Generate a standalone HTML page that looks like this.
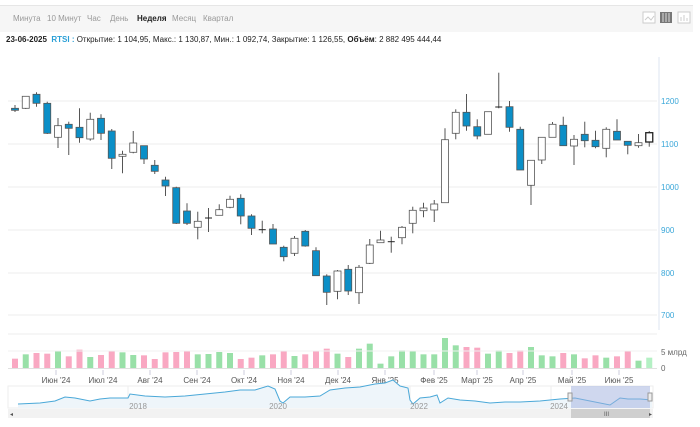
<!DOCTYPE html>
<html><head><meta charset="utf-8"><style>
body{margin:0;background:#fff;width:700px;height:427px;overflow:hidden;font-family:"Liberation Sans",sans-serif;position:relative}
.tabs{position:absolute;left:0;top:5px;width:693px;height:26px;background:#f6f6f6;border-top:1px solid #e6e6e6}
.tabs span{position:absolute;top:8px;font-size:8px;color:#999}
.info{position:absolute;left:6px;top:35px;font-size:8px;color:#222}
</style></head><body>
<div class="tabs">
<span style="left:13px">Минута</span><span style="left:47px">10 Минут</span><span style="left:87px">Час</span><span style="left:110px">День</span><span style="left:137px;color:#222;font-weight:bold">Неделя</span><span style="left:172px">Месяц</span><span style="left:203px">Квартал</span>
</div>
<svg style="position:absolute;left:0;top:0" width="700" height="427" id="s">
<rect x="643" y="12" width="12" height="11" fill="#fff" stroke="#ccc"/>
<polyline points="645,20 648,17 651,20 654,16" fill="none" stroke="#ccc"/>
<rect x="660" y="12" width="12" height="11" fill="#777"/>
<path d="M663 13v9M666 13v9M669 13v9" stroke="#ddd"/>
<rect x="678" y="12" width="12" height="11" fill="#fff" stroke="#ccc"/>
<path d="M681 21v-4M684 21v-6M687 21v-3" stroke="#ccc"/>
</svg>
<div class="info"><b>23-06-2025</b> &nbsp;<b style="color:#2a9fd6">RTSI :</b> Открытие: 1 104,95, Макс.: 1 130,87, Мин.: 1 092,74, Закрытие: 1 126,55, <b>Объём</b>: 2 882 495 444,44</div>
<script>
const s=document.getElementById('s');let h='';
[[101,1200],[144,1100],[187,1000],[230,900],[273,800],[315,700]].forEach(([y,v])=>{h+=`<line x1="8" x2="657" y1="${y}" y2="${y}" stroke="#eeeeee"/><text x="661" y="${y+3}" font-size="8" fill="#3aa7d9">${v}</text>`});
h+=`<line x1="659" x2="659" y1="57" y2="330" stroke="#dde6f2"/>`;
const c=[[0,108.3,110.3,105,112],[1,108.3,96.3,96,109],[0,94.3,103.3,92.3,106.7],[0,103.3,133.3,101.7,134],[1,137.3,125.7,118,148],[0,124.3,128.3,121.7,155],[0,127.3,137.7,108.3,142.7],[1,139,119.3,112.7,140.7],[0,118.3,133.3,114.3,140],[0,131,158.3,129,169],[1,156.3,154.3,150.7,173.3],[1,152.3,143,131,153.3],[0,145.7,159,145.7,164],[0,165.3,171.3,160,174],[0,180,186,176.7,196],[0,187.7,223.3,186.7,224],[0,211,223.3,203.3,225],[1,227.3,221.3,211.7,239.3],[2,218,218,208,232],[1,215.3,209.7,204.3,215.3],[1,207.3,199.3,195.7,208.3],[0,198.3,216,194.3,224.3],[0,216,228.3,214.3,235],[2,229.7,229.7,220.7,233.3],[0,229,244,224,244],[0,247.3,256.7,245.7,261.3],[1,253.3,238.3,236,256],[0,231.3,246,230,246.7],[0,250.7,275.7,247.3,275.7],[0,276,292.3,274.3,305],[1,291.3,271,270,299.3],[0,269.3,291,265,295],[1,292.7,267.3,265,304],[1,263.3,245,239,264],[1,242.7,240,230.7,242.7],[2,241.7,241.7,236.7,252.7],[1,237.7,227.3,226,244.3],[1,223.3,210.3,206.7,233.3],[1,210.7,208,202.7,217.3],[1,210,204,200,222],[1,202.7,139.7,128.3,202.7],[1,133.3,112.3,109.3,139.3],[0,112.3,126,94,130.7],[0,126.7,136,119.3,139.3],[1,134.3,111.7,111.7,134.3],[2,107,107,72.7,108.3],[0,106.7,127.3,101,131.7],[0,129.3,170,126.7,170],[1,185.3,160.3,160.3,205],[1,160,137.3,137.3,164],[1,137.3,124.3,122,137.3],[0,125.3,145.7,116.7,145.7],[1,146,139.3,135,165],[0,134.3,140.7,121.7,147.3],[0,140.3,146.7,130.7,148.3],[1,148.3,129.3,127.3,157.3],[0,131.3,140,119.3,140],[0,141.3,145.3,141.3,154.3],[1,145.7,142.7,134,147.7],[1,142,132.7,131,146.7]];
const vt=[90,75,70,72,65,80,58,82,76,63,67,75,76,87,66,65,62,72,72,65,68,87,82,75,72,62,77,72,63,55,70,80,55,40,100,60,63,72,72,23,42,46,50,70,60,68,60,50,75,78,68,72,84,75,82,78,62,91,82,86];
const vols=[85,72,68,70,62,78,58,80,74,62,66,74,75,86,66,65,62,72,71,65,68,86,82,75,72,62,77,72,63,55,70,80,55,40,100,78,60,63,72,72,23,45,50,52,70,60,68,60,50,75,78,68,72,84,75,82,78,62,91,82];
c.forEach((d,i)=>{const x=15+i*10.75;const [t,o,cl,hi,lo]=d;
h+=`<line x1="${x}" x2="${x}" y1="${hi}" y2="${lo}" stroke="#555"/>`;
const top=Math.min(o,cl),ht=Math.max(Math.abs(o-cl),1);
if(t==2)h+=`<line x1="${x-3.5}" x2="${x+3.5}" y1="${o}" y2="${o}" stroke="#222"/>`;
else h+=`<rect x="${x-3.5}" y="${top}" width="7" height="${ht}" fill="${t?'#fff':'#0b8fc7'}" stroke="${i==59?'#222':'#555'}" stroke-width="${i==59?1.3:0.8}"/>`;
const vh=(113-vols[i])/3;
h+=`<rect x="${x-3}" y="${368-vh}" width="6" height="${vh}" fill="${t==0?'#f9a8c2':(i==59?'#b4f0c4':'#99e0a8')}"/>`;
});
h+=`<line x1="8" x2="657" y1="368.5" y2="368.5" stroke="#e0e0e0"/><line x1="8" x2="657" y1="351" y2="351" stroke="#f0f0f0"/><line x1="8" x2="657" y1="334" y2="334" stroke="#eee"/>`;
h+=`<text x="661" y="355" font-size="8" fill="#666">5 млрд</text><text x="661" y="371" font-size="8" fill="#666">0</text>`;
[["Июн '24",56],["Июл '24",103],["Авг '24",150],["Сен '24",197],["Окт '24",244],["Ноя '24",291],["Дек '24",338],["Янв '25",385],["Фев '25",434],["Март '25",477],["Апр '25",523],["Май '25",572],["Июн '25",619]].forEach(([t,x])=>{h+=`<line x1="${x}" x2="${x}" y1="370" y2="375" stroke="#ccd"/><text x="${x}" y="383" font-size="8" fill="#555" text-anchor="middle">${t}</text>`});
// navigator
h+=`<rect x="8" y="386" width="645" height="22" fill="#fff" stroke="#eee"/>`;
[128,269,410,551].forEach(x=>h+=`<line x1="${x}" x2="${x}" y1="386" y2="408" stroke="#eee"/>`);
const pts=[[18,404],[40,403],[55,401],[65,397],[75,398],[90,401],[100,399],[110,398],[128,398],[130,394],[145,396],[165,397],[185,396],[205,394],[225,392],[240,390],[255,390],[268,386],[275,389],[280,401],[283,403],[290,397],[305,397],[320,396],[330,390],[345,388],[360,387],[375,384],[385,383],[393,380],[400,386],[408,388],[410,400],[413,404],[420,398],[430,397],[437,395],[440,403],[448,398],[460,400],[475,401],[490,403],[505,402],[520,402],[540,401],[560,399],[575,398],[590,401],[610,405],[620,398],[628,399],[640,399],[652,400]];
const pd=pts.map(p=>p.join(',')).join(' ');
h+=`<polygon points="18,408 ${pd} 652,408" fill="#eef5fa"/><polyline points="${pd}" fill="none" stroke="#4aa8d8" stroke-width="1"/>`;
h+=`<rect x="571" y="386" width="79" height="22" fill="#9fb0dd" opacity="0.5"/><rect x="568" y="393" width="4" height="8" fill="#eee" stroke="#999"/><rect x="648" y="393" width="4" height="8" fill="#eee" stroke="#999"/>`;
[["2018",138],["2020",278],["2022",419],["2024",559]].forEach(([t,x])=>h+=`<text x="${x}" y="409" font-size="8" fill="#999" text-anchor="middle">${t}</text>`);
h+=`<rect x="8" y="409" width="645" height="9" fill="#f2f2f2"/><rect x="571" y="409" width="79" height="9" fill="#cfcfcf"/><text x="604" y="416" font-size="6" fill="#555">III</text><text x="10" y="416" font-size="6" fill="#555">◂</text><text x="649" y="416" font-size="6" fill="#555">▸</text>`;
s.insertAdjacentHTML('beforeend',h);
</script>
</body></html>
